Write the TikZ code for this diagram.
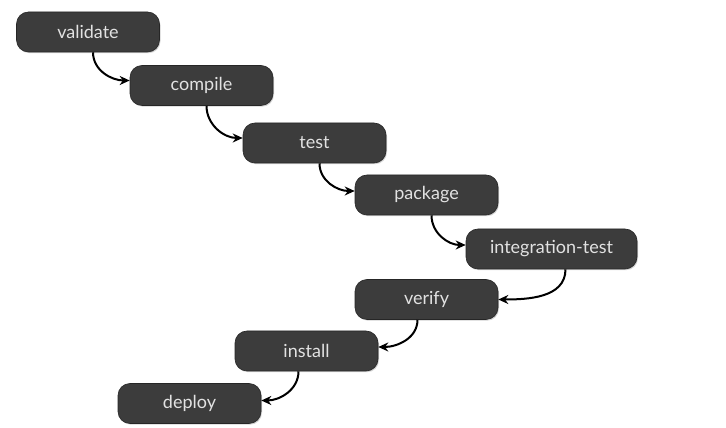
\documentclass[tikz,border=0pt]{standalone}
\usepackage{fontspec}
\setmainfont{Lato}
\usetikzlibrary{arrows.meta,shadows}

\definecolor{boxfill}{HTML}{3C3C3C}
\definecolor{boxtext}{HTML}{E2E2E2}

\tikzset{
  phase/.style={
    draw=black!85, line width=0.6pt, fill=boxfill, text=boxtext,
    rounded corners=12pt, minimum width=143pt, minimum height=40pt,
    inner xsep=20pt, font=\fontsize{18}{21}\selectfont,
    drop shadow={opacity=0.35, shadow xshift=1pt, shadow yshift=-1.2pt}
  },
  flow/.style={
    draw=black, line width=2pt,
    -{Stealth[length=10pt,width=9pt]}
  }
}

\begin{document}
\begin{tikzpicture}[x=1pt,y=1pt]
  \useasboundingbox (0,0) rectangle (726,428);
  \fill[white] (0,0) rectangle (726,428);

  % lifecycle phases, stepping down to the right and back
  \node[phase] (validate)    at (88,396)    {validate};
  \node[phase] (compile)     at (201.5,342.5) {compile};
  \node[phase] (test)        at (314.5,285)  {test};
  \node[phase] (package)     at (426.5,233)  {package};
  \node[phase, minimum width=171pt] (integration) at (551.5,179) {integration-test};
  \node[phase] (verify)      at (426.5,128.5) {verify};
  \node[phase] (install)     at (306.5,77)   {install};
  \node[phase] (deploy)      at (189.5,24.5) {deploy};

  % connectors
  \draw[flow] ([xshift=5pt]validate.south)   to[out=-90,in=180] ([yshift=5pt]compile.west);
  \draw[flow] ([xshift=5pt]compile.south)    to[out=-90,in=180] ([yshift=5pt]test.west);
  \draw[flow] ([xshift=5pt]test.south)       to[out=-90,in=180] ([yshift=4pt]package.west);
  \draw[flow] ([xshift=5pt]package.south)    to[out=-90,in=180] ([yshift=4pt]integration.west);
  \draw[flow] ([xshift=14pt]integration.south) to[out=-90,in=0] ([yshift=0pt]verify.east);
  \draw[flow] ([xshift=-9pt]verify.south)    to[out=-90,in=0] ([yshift=4pt]install.east);
  \draw[flow] ([xshift=-8pt]install.south)   to[out=-90,in=0] ([yshift=3pt]deploy.east);
\end{tikzpicture}
\end{document}
